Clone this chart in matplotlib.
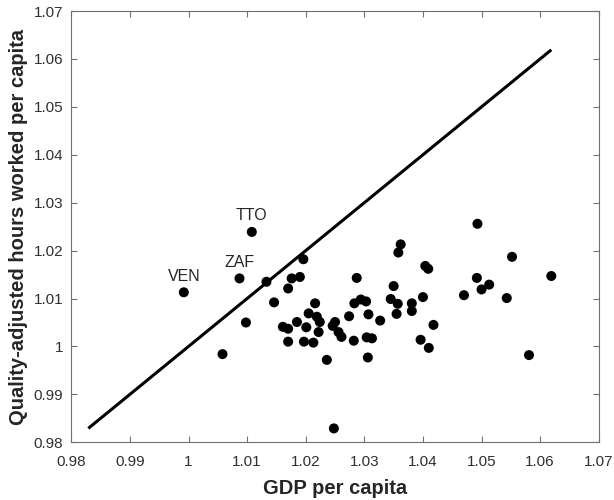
import numpy as np
import matplotlib
matplotlib.use('Agg')
from matplotlib import pyplot as plt

# GDP per capita (x) vs quality-adjusted hours worked per capita (y)
gdp = [0.9992, 1.0087, 1.0108, 1.0058, 1.0098, 1.0133, 1.0146, 1.0176, 1.0190,
       1.0170, 1.0196, 1.0216, 1.0205, 1.0219, 1.0224, 1.0185, 1.0161, 1.0170,
       1.0201, 1.0222, 1.0170, 1.0197, 1.0213, 1.0236, 1.0250, 1.0246, 1.0256,
       1.0261, 1.0274, 1.0282, 1.0287, 1.0283, 1.0294, 1.0303, 1.0304, 1.0313,
       1.0306, 1.0307, 1.0327, 1.0345, 1.0357, 1.0355, 1.0350, 1.0358, 1.0362,
       1.0381, 1.0381, 1.0400, 1.0404, 1.0409, 1.0418, 1.0396, 1.0410, 1.0470,
       1.0492, 1.0493, 1.0500, 1.0513, 1.0543, 1.0552, 1.0581, 1.0619, 1.0248]
hours = [1.0113, 1.0142, 1.0239, 0.9984, 1.0050, 1.0135, 1.0092, 1.0142, 1.0145,
         1.0121, 1.0182, 1.0090, 1.0069, 1.0062, 1.0051, 1.0051, 1.0041, 1.0037,
         1.0040, 1.0030, 1.0010, 1.0010, 1.0008, 0.9972, 1.0051, 1.0043, 1.0030,
         1.0020, 1.0063, 1.0012, 1.0143, 1.0090, 1.0098, 1.0094, 1.0019, 1.0017,
         0.9977, 1.0067, 1.0054, 1.0099, 1.0089, 1.0068, 1.0126, 1.0196, 1.0213,
         1.0090, 1.0074, 1.0103, 1.0168, 1.0162, 1.0045, 1.0014, 0.9997, 1.0107,
         1.0143, 1.0256, 1.0119, 1.0129, 1.0101, 1.0187, 0.9982, 1.0147, 0.9829]

labels = ['VEN', 'ZAF', 'TTO']  # first three points are labelled

xticks = [0.98, 0.99, 1, 1.01, 1.02, 1.03, 1.04, 1.05, 1.06, 1.07]
yticks = [0.98, 0.99, 1, 1.01, 1.02, 1.03, 1.04, 1.05, 1.06, 1.07]

plt.rcParams['font.family'] = ['Liberation Sans', 'DejaVu Sans']

fig = plt.figure(figsize=(6.14, 5.0), dpi=100)
ax = fig.add_axes([0.1161, 0.1154, 0.8591, 0.8626])

# 45 degree line over the data range
lo = min(min(gdp), min(hours))
hi = max(max(gdp), max(hours))
ax.plot([lo, hi], [lo, hi], color='black', lw=2.2, solid_capstyle='butt', zorder=2)

ax.scatter(gdp, hours, s=52, color='black', edgecolors='none', zorder=3)

for i, lab in enumerate(labels):
    ax.annotate(lab, (gdp[i], hours[i]), xytext=(0, 11.5), textcoords='offset points',
                ha='center', va='center', fontsize=11.5, color='#262626')

ax.set_xlim(0.98, 1.07)
ax.set_ylim(0.98, 1.07)
ax.set_xticks(xticks)
ax.set_yticks(yticks)
ax.set_xticklabels([('%g' % t) for t in xticks])
ax.set_yticklabels([('%g' % t) for t in yticks])

ax.tick_params(direction='in', top=True, right=True, length=4, width=0.8,
               colors='#707070', labelcolor='#303030', labelsize=11)
ax.tick_params(axis='x', pad=9.5)
ax.tick_params(axis='y', pad=5.7)
for sp in ax.spines.values():
    sp.set_color('#707070')
    sp.set_linewidth(0.8)

ax.set_xlabel('GDP per capita', fontsize=14.5, fontweight='bold', color='#262626', labelpad=6.5)
ax.set_ylabel('Quality-adjusted hours worked per capita', fontsize=14.5,
              fontweight='bold', color='#262626', labelpad=4)

fig.savefig('out.png', dpi=100)
